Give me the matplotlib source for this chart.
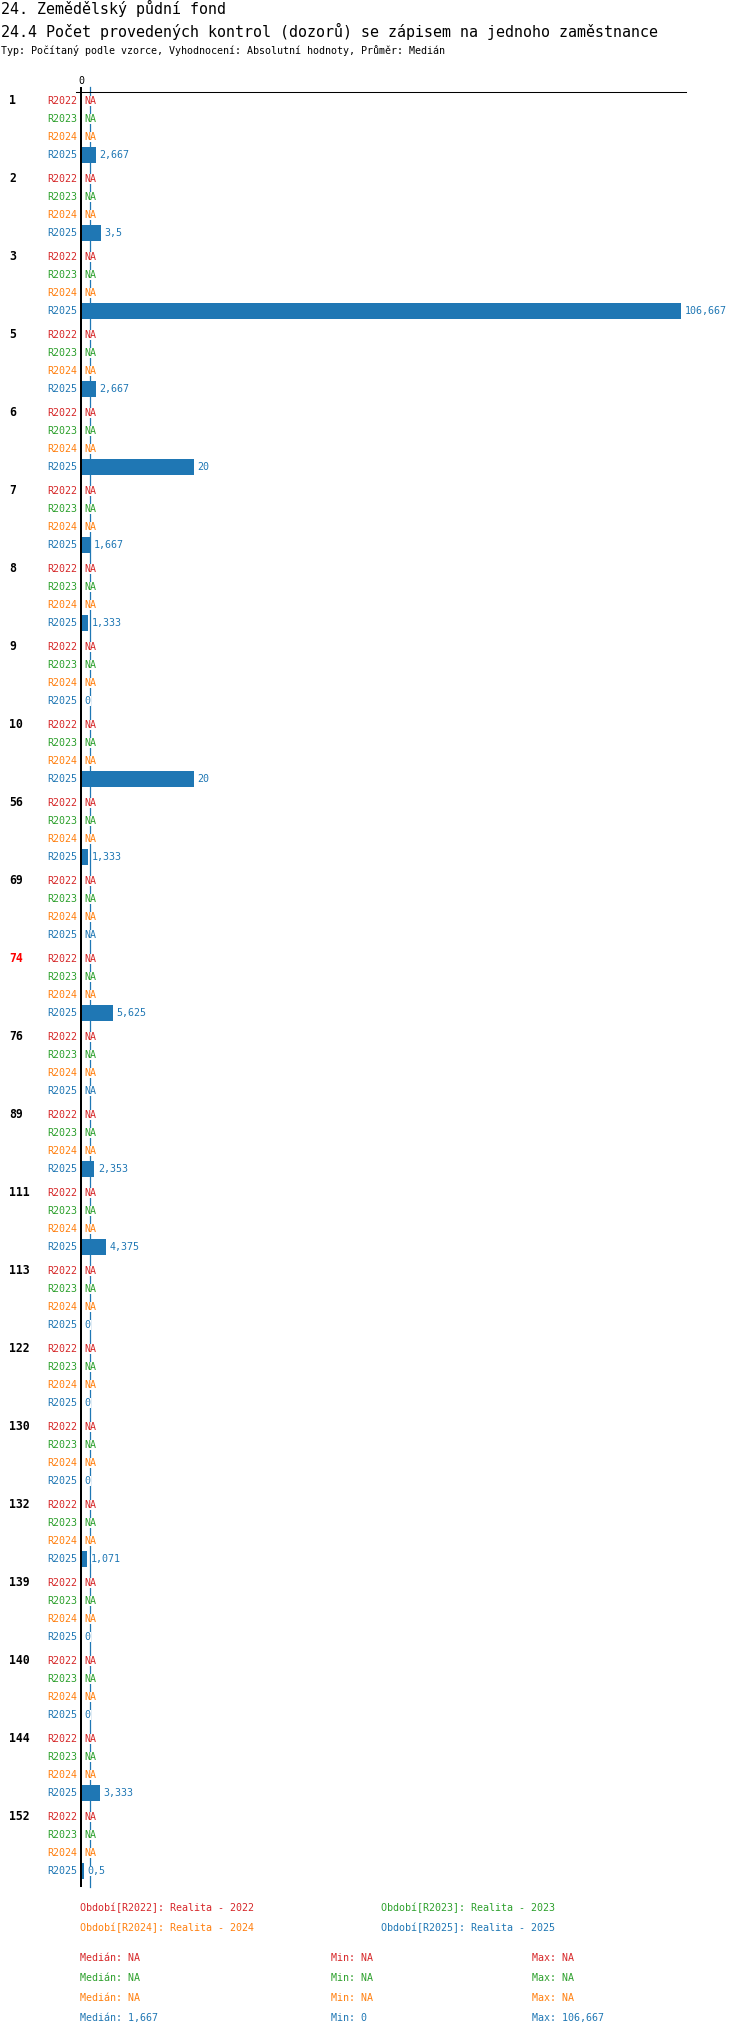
import numpy as np
import matplotlib
matplotlib.use('Agg')
import matplotlib.pyplot as plt
from matplotlib.transforms import blended_transform_factory

# data
groups = ['1', '2', '3', '5', '6', '7', '8', '9', '10', '56', '69', '74', '76',
          '89', '111', '113', '122', '130', '132', '139', '140', '144', '152']
highlight = ['74']
periods = ['R2022', 'R2023', 'R2024', 'R2025']
period_names = ['Realita - 2022', 'Realita - 2023', 'Realita - 2024', 'Realita - 2025']
colors = ['#d62728', '#2ca02c', '#ff7f0e', '#1f77b4']
NA = None
r2022 = [NA] * len(groups)
r2023 = [NA] * len(groups)
r2024 = [NA] * len(groups)
r2025 = [2.667, 3.5, 106.667, 2.667, 20, 1.667, 1.333, 0, 20, 1.333, NA, 5.625, NA,
         2.353, 4.375, 0, 0, 0, 1.071, 0, 0, 3.333, 0.5]
series = [r2022, r2023, r2024, r2025]

title1 = '24. Zemědělský půdní fond'
title2 = '24.4 Počet provedených kontrol (dozorů) se zápisem na jednoho zaměstnance'
subtitle = 'Typ: Počítaný podle vzorce, Vyhodnocení: Absolutní hodnoty, Průměr: Medián'

FONT = 'DejaVu Sans Mono'
plt.rcParams['font.family'] = [FONT]

W, H = 750, 2036


def fmt(v):
    if v is None:
        return 'NA'
    s = f'{v:.3f}'.rstrip('0').rstrip('.')
    return s.replace('.', ',')


fig = plt.figure(figsize=(W / 100, H / 100), dpi=100)

# axes placed in pixel layout
ax_l, ax_r, ax_t, ax_b = 75.5, 686, 92, 1887
ax = fig.add_axes([ax_l / W, 1 - ax_b / H, (ax_r - ax_l) / W, (ax_b - ax_t) / H])
px_per_unit = 5.625
x0 = 81
ax.set_xlim((ax_l - x0) / px_per_unit, (ax_r - x0) / px_per_unit)
ax.set_ylim(ax_b, ax_t)

for s in ['left', 'right', 'bottom']:
    ax.spines[s].set_visible(False)
ax.spines['top'].set_linewidth(0.75)
ax.xaxis.set_ticks_position('top')
ax.set_xticks([0])
ax.set_xticklabels(['0'], fontsize=7.2)
ax.tick_params(axis='x', length=3.6, width=1.44, pad=0.8)
ax.set_yticks([])

group_step, row_step, first_row = 78, 18, 101
trans_lab = blended_transform_factory(fig.transFigure, ax.transData)

for gi, g in enumerate(groups):
    gy = first_row + gi * group_step
    ax.text(9.5 / W, gy, g, transform=trans_lab, ha='left', va='center',
            fontsize=8.3, fontweight='bold',
            color='#ff0000' if g in highlight else 'black')
    for pi, (p, col, ser) in enumerate(zip(periods, colors, series)):
        y = gy + pi * row_step
        v = ser[gi]
        ax.annotate(p, xy=(0, y), xytext=(-3, 0), textcoords='offset points',
                    ha='right', va='center', fontsize=7.2, color=col,
                    annotation_clip=False)
        if v is None:
            ax.annotate('NA', xy=(0, y), xytext=(2.6, 0), textcoords='offset points',
                        ha='left', va='center', fontsize=7.2, color=col, zorder=4,
                        bbox=dict(facecolor='white', edgecolor='none', pad=0))
        else:
            ax.barh(y, v, height=16, color=col, zorder=3)
            ax.annotate(fmt(v), xy=(v, y), xytext=(2.6, 0), textcoords='offset points',
                        ha='left', va='center', fontsize=7.2, color=col, zorder=4,
                        bbox=dict(facecolor='white', edgecolor='none', pad=0))

# zero axis and median line
ax.axvline(0, color='black', lw=1.44, zorder=5)
vals = [v for v in r2025 if v is not None]
med = float(np.median(vals))
ax.axvline(med, ymin=0, ymax=1 + 5 / (ax_b - ax_t), color=colors[3], lw=0.9,
           zorder=1, clip_on=False)

# header
fig.text(1 / W, 1 - 8 / H, title1, fontsize=10.8, ha='left', va='center')
fig.text(1 / W, 1 - 31 / H, title2, fontsize=10.8, ha='left', va='center')
fig.text(1 / W, 1 - 51 / H, subtitle, fontsize=7.2, ha='left', va='center')

# legend
leg_pos = [(80, 1908), (381, 1908), (80, 1928), (381, 1928)]
for (lx, ly), p, name, col in zip(leg_pos, periods, period_names, colors):
    fig.text(lx / W, 1 - ly / H, f'Období[{p}]: {name}', fontsize=7.2,
             color=col, ha='left', va='center')

# stats
stat_y = [1958, 1978, 1998, 2018]
for sy, ser, col in zip(stat_y, series, colors):
    sv = [v for v in ser if v is not None]
    if sv:
        md, mn, mx = fmt(float(np.median(sv))), fmt(min(sv)), fmt(max(sv))
    else:
        md = mn = mx = 'NA'
    fig.text(80 / W, 1 - sy / H, f'Medián: {md}', fontsize=7.2, color=col, va='center')
    fig.text(331 / W, 1 - sy / H, f'Min: {mn}', fontsize=7.2, color=col, va='center')
    fig.text(532 / W, 1 - sy / H, f'Max: {mx}', fontsize=7.2, color=col, va='center')

fig.savefig('out.png', dpi=100)
